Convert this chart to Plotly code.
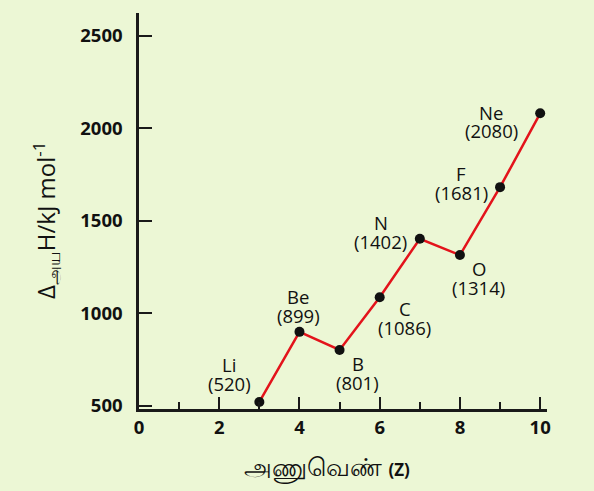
import plotly.graph_objects as go

elements = ["Li", "Be", "B", "C", "N", "O", "F", "Ne"]
atomic_numbers = [3, 4, 5, 6, 7, 8, 9, 10]
ionisation_enthalpy = [520, 899, 801, 1086, 1402, 1314, 1681, 2080]
x_tick_vals = [0, 2, 4, 6, 8, 10]
y_tick_vals = [500, 1000, 1500, 2000, 2500]
# label offsets (pixels) relative to each point (centre of the two-line block)
label_dx = [-30, -1, 18, 25, -39, 19, -39, -49]
label_dy = [28, 26, -23, -21, 7, -23, 4, -8]

BG = "rgb(236,247,213)"
AX = "#1a1a1a"
FONT = "Open Sans, Noto Sans, DejaVu Sans, sans-serif"
LINE_GAP = 9.3

fig = go.Figure()
fig.add_trace(go.Scatter(
    x=atomic_numbers, y=ionisation_enthalpy, mode="lines+markers",
    line=dict(color="#e3131b", width=2.5),
    marker=dict(color="#111111", size=10),
    showlegend=False, hoverinfo="skip",
))

for el, z, v, dx, dy in zip(elements, atomic_numbers, ionisation_enthalpy, label_dx, label_dy):
    fig.add_annotation(
        x=z, y=v, xref="x", yref="y", text=el, showarrow=False, borderpad=0,
        xshift=dx, yshift=dy + LINE_GAP, font=dict(family=FONT, size=18.5, color="#111111"),
    )
    fig.add_annotation(
        x=z, y=v, xref="x", yref="y", text=f"({v})", showarrow=False, borderpad=0,
        xshift=dx, yshift=dy - LINE_GAP, font=dict(family=FONT, size=18.5, color="#111111"),
    )

fig.add_annotation(
    xref="paper", yref="paper", x=-0.228, y=0.477, xanchor="center", yanchor="middle",
    textangle=-90,
    text="Δ<sub>அய</sub>H/kJ mol<sup>-1</sup>", showarrow=False,
    font=dict(family=FONT, size=24, color="#111111"),
)
fig.add_annotation(
    xref="paper", yref="paper", x=0.461, y=-0.146, xanchor="center", yanchor="middle",
    text="அணுவெண் <b><span style='font-size:17px'>(Z)</span></b>", showarrow=False,
    font=dict(family=FONT, size=25, color="#111111"),
)

fig.update_xaxes(
    range=[0, 10.17], tickvals=x_tick_vals, ticks="inside", ticklen=12, tickwidth=2,
    tickcolor=AX, showline=True, linecolor=AX, linewidth=2.5, showgrid=False,
    zeroline=False, automargin=False,
    tickfont=dict(family=FONT, size=18.5, color="#111111", weight="bold"),
    minor=dict(dtick=1, tick0=0, ticks="inside", ticklen=7, tickwidth=2, tickcolor=AX),
)
fig.update_yaxes(
    range=[482, 2622], tickvals=y_tick_vals, ticks="inside", ticklen=13, tickwidth=2,
    tickcolor=AX, showline=True, linecolor=AX, linewidth=2.5, showgrid=False,
    zeroline=False, automargin=False,
    tickfont=dict(family=FONT, size=18.5, color="#111111", weight="bold"),
    ticklabelstandoff=10,
)
fig.update_layout(
    width=594, height=491, paper_bgcolor=BG, plot_bgcolor=BG,
    margin=dict(l=139, r=47, t=13, b=82, autoexpand=False),
)
fig.write_html("out.html", config={"displayModeBar": False},
               post_script="document.body.style.margin='0';")
